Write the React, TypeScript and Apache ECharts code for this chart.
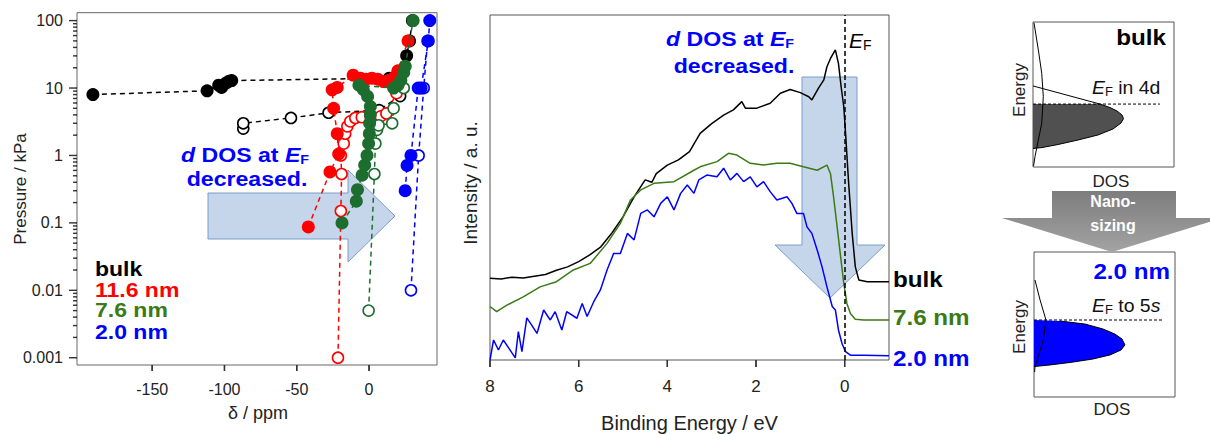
import React, { useEffect, useRef } from 'react';
import * as echarts from 'echarts';

const FONT = '"Liberation Sans", Arial, Helvetica, sans-serif';
const BLUE = '#0000ff';
const RED = '#ff0000';
const GREEN_TXT = '#3b7a14';
const GREEN_PT = '#1d6e2e';

// ---------- left panel: isotherm-like data (delta / ppm, pressure / kPa) ----------
const ppmMin = -202;
const ppmMax = 47;
const ppmTicks = [-150, -100, -50, 0];
const pMin = 0.00078;
const pMax = 131;
const pMajor = [0.001, 0.01, 0.1, 1, 10, 100];
const minorMult = [2, 3, 4, 5, 6, 7, 8, 9];
const pMinor = pMajor.slice(0, 5).flatMap((d) => minorMult.map((m) => m * d));

const bulkAds = [[-191, 8.0], [-112, 9.1], [-104, 11.0], [-102, 10.2], [-99, 11.8], [-97, 12.6], [-95, 12.9], [14, 14], [20, 17], [26, 30], [28, 50], [30, 100]];
const bulkDes = [[-87, 2.5], [-87, 3.0], [-54, 3.6], [-28, 4.3], [7, 4.7], [21.5, 7.6]];
const nm116Ads = [[-42, 0.087], [-27, 0.57], [-21, 1.05], [-22, 2.1], [-24.5, 5.0], [-25.5, 9.4], [-22, 10.2], [-11, 15.5], [-6, 14], [-2, 13.5], [2, 14], [6, 13.5], [10, 12.5], [14, 13], [17, 14], [20, 18], [27, 50]];
const nm116Des = [[-21.5, 0.001], [-19.5, 0.15], [-19, 0.53], [-19.5, 1.0], [-17.5, 1.5], [-16.5, 2.1], [-15, 2.7], [-13, 3.2], [-9.5, 3.6], [-5, 3.7], [1, 3.8], [8, 3.8], [12, 4.2], [19, 8.4]];
const nm76Ads = [[-18.7, 0.1], [-8.8, 0.21], [-8, 0.31], [-4.8, 0.51], [-3, 0.72], [-1.4, 1.0], [-0.3, 1.5], [0.2, 2.1], [0.4, 3.0], [0.9, 4.0], [0.9, 5.3], [-1, 7.5], [-4, 9.5], [-7, 11], [17, 10], [20, 11], [22, 13], [24, 17], [25, 21], [30.5, 100]];
const nm76Des = [[-0.3, 0.005], [3.7, 0.53], [4.4, 1.5], [5.5, 2.4], [6.6, 2.8], [16, 3.0], [17, 5], [24, 10]];
const nm20Ads = [[25, 0.3], [26.3, 0.71], [29, 1.0], [34, 10], [36, 10], [41, 50], [42, 100]];
const nm20Des = [[29, 0.01], [34.3, 1.0], [37.8, 10], [40.5, 50]];

// ---------- middle panel: spectra (binding energy / eV, intensity / a.u.) ----------
const eMin = -1;
const eMax = 8;
const eTicks = [0, 2, 4, 6, 8];
const xpsBulk = [[8, 23.7], [7.75, 23.5], [7.5, 24], [7.25, 23.8], [7, 24.3], [6.75, 24.8], [6.5, 26], [6.25, 27], [6, 28.5], [5.75, 30.5], [5.5, 32.8], [5.25, 36.8], [5, 41.5], [4.75, 47.3], [4.5, 52.2], [4.35, 51.5], [4.25, 54], [4, 56.5], [3.75, 58], [3.5, 60.4], [3.26, 65.7], [3, 68.5], [2.73, 71], [2.51, 72.5], [2.32, 74.9], [2.24, 73], [1.98, 73], [1.68, 74.4], [1.45, 77.3], [1.23, 78.4], [1.0, 77.5], [0.81, 76.3], [0.74, 75.4], [0.59, 78.8], [0.47, 81.2], [0.4, 85], [0.32, 87.4], [0.21, 89.9], [0.14, 86], [0.08, 79.2], [0.02, 73.4], [-0.02, 65.7], [-0.09, 51.2], [-0.17, 36.7], [-0.24, 27], [-0.32, 23.2], [-0.51, 22.7], [-1, 22.7]];
const xps76 = [[8, 15.5], [7.85, 14], [7.62, 15.9], [7.25, 18.3], [6.87, 21.2], [6.5, 22.7], [6.12, 26.1], [5.74, 28], [5.36, 33.8], [5.06, 39.6], [4.83, 46.4], [4.6, 49.3], [4.3, 51.2], [3.85, 51.7], [3.4, 55], [3.26, 56], [2.88, 57.5], [2.62, 59.9], [2.43, 59.4], [2.13, 57], [1.83, 56.5], [1.53, 57], [1.23, 57], [0.93, 56], [0.62, 55], [0.4, 56.5], [0.32, 54], [0.25, 47.3], [0.17, 38.6], [0.1, 30.9], [0.02, 22.2], [-0.05, 16.4], [-0.13, 13.5], [-0.24, 11.8], [-0.43, 11.6], [-1, 11.6]];
const xps20 = [[8, 0], [7.92, 5.8], [7.81, 2.9], [7.7, 5.8], [7.58, 3.5], [7.43, 0.6], [7.36, 8.2], [7.28, 2.4], [7.17, 12.2], [7.06, 10.1], [6.94, 7.7], [6.79, 14.5], [6.64, 11.6], [6.53, 14], [6.38, 8.7], [6.27, 14], [6.04, 12.1], [5.92, 16.4], [5.81, 12.6], [5.66, 16.9], [5.51, 20.3], [5.36, 26.1], [5.21, 30.9], [5.06, 30.9], [4.9, 36.7], [4.75, 34.8], [4.6, 42.5], [4.45, 43.5], [4.3, 41.5], [4.15, 45.4], [4.0, 47.3], [3.85, 43.5], [3.7, 48.3], [3.55, 50.7], [3.4, 48.3], [3.29, 52.2], [3.11, 53.6], [2.88, 53.1], [2.73, 55.6], [2.58, 52.2], [2.43, 54.1], [2.28, 51.7], [2.13, 53.1], [1.98, 50.2], [1.83, 51.7], [1.68, 48.8], [1.53, 46.4], [1.3, 47.3], [1.19, 45.4], [1.08, 42.5], [0.93, 42.5], [0.85, 38.6], [0.74, 36.7], [0.62, 31.9], [0.51, 27], [0.4, 21.2], [0.28, 15.5], [0.21, 14.5], [0.14, 8.7], [0.06, 4.8], [-0.02, 2.4], [-0.13, 1.4], [-0.43, 1.4], [-1, 1.2]];

// ---------- right panel: schematic DOS (DOS, energy) in 0..10 boxes ----------
const bulkDFill = [[0, 4.34], [4.75, 4.34], [5.46, 4.1], [5.96, 3.86], [6.31, 3.59], [6.42, 3.34], [6.24, 3.03], [5.67, 2.62], [4.61, 2.21], [3.19, 1.86], [1.77, 1.55], [0.64, 1.34], [0, 1.28]];
const bulkDLine = [[0, 5.59], [4.75, 4.34], [5.46, 4.1], [5.96, 3.86], [6.31, 3.59], [6.42, 3.34], [6.24, 3.03], [5.67, 2.62], [4.61, 2.21], [3.19, 1.86], [1.77, 1.55], [0.64, 1.34], [0, 1.28]];
const bulkSBand = [[0.07, 9.95], [0.38, 8.07], [0.62, 6.46], [0.73, 4.85], [0.62, 3.01], [0.38, 1.86], [0.14, 0.71], [0.04, 0.07]];
const bulkEF = [[0, 4.34], [9.0, 4.34]];
const nanoDFill = [[0, 5.31], [1.84, 5.24], [3.62, 5.03], [4.89, 4.69], [5.74, 4.34], [6.24, 4.0], [6.45, 3.59], [6.17, 3.24], [5.39, 2.9], [4.18, 2.62], [2.55, 2.38], [1.13, 2.21], [0, 2.1]];
const nanoSBand = [[0.07, 8.07], [0.43, 6.69], [0.85, 5.31], [0.66, 3.94], [0.38, 3.03], [0.07, 2.09], [0.04, 1.72]];
const nanoEF = [[0, 5.31], [9.08, 5.31]];

// grid geometry (px)
const G0 = { left: 77, top: 12.7, width: 360, height: 352.3 };
const G1 = { left: 490, top: 15, width: 399, height: 345 };

function rich(size: number, weight: string, color: string, sub: number) {
  const base = { fontSize: size, fontWeight: weight, fill: color, fontFamily: FONT, lineHeight: size + 2 };
  return {
    n: { ...base, fontStyle: 'normal' },
    i: { ...base, fontStyle: 'italic' },
    s: { fontSize: sub, fontWeight: weight, fill: color, fontFamily: FONT, fontStyle: 'normal', lineHeight: sub, verticalAlign: 'bottom' },
  };
}

function txt(x: number, y: number, text: string, size: number, color: string, opts: any = {}) {
  const sx = opts.scaleX || 1;
  return {
    type: 'text', x, y, z: 20, rotation: opts.rotation || 0, silent: true,
    scaleX: sx, scaleY: 1,
    style: {
      text, fontSize: size, fontFamily: FONT, fontWeight: opts.weight || 'normal', fill: color,
      align: opts.align || 'center', verticalAlign: 'middle',
      rich: opts.rich,
    },
  };
}

function scatterLine(data: number[][], color: string, filled: boolean, z: number) {
  return {
    type: 'line', xAxisIndex: 0, yAxisIndex: 0, data, symbol: 'circle', symbolSize: filled ? 13 : 11,
    showSymbol: true, showAllSymbol: true, silent: true, z,
    lineStyle: { color, width: 1.5, type: [5, 4] },
    itemStyle: filled ? { color } : { color: '#ffffff', borderColor: color, borderWidth: 1.6 },
  };
}

function polySeries(data: number[][], xi: number, yi: number, fill: string) {
  return {
    type: 'custom', xAxisIndex: xi, yAxisIndex: yi, data: [[0, 0]], silent: true, z: 2, clip: false,
    renderItem: (_p: any, api: any) => ({
      type: 'polygon',
      shape: { points: data.map((d) => api.coord(d)) },
      style: { fill, stroke: 'none' },
    }),
  };
}

function plainLine(data: number[][], xi: number, yi: number, color: string, width: number, dashed = false) {
  return {
    type: 'line', xAxisIndex: xi, yAxisIndex: yi, data, symbol: 'none', silent: true, z: 3,
    lineStyle: { color, width, type: dashed ? [3, 2] : 'solid' },
  };
}

// a tick drawn as a short unclipped two-point line series in data space
function tickLine(xi: number, yi: number, a: number[], b: number[]) {
  return {
    type: 'line', xAxisIndex: xi, yAxisIndex: yi, data: [a, b], symbol: 'none', silent: true, z: 9,
    clip: false, lineStyle: { color: '#333', width: 1.3 },
  };
}

// thin tick bars as graphic polygons
function tickBar(x: number, y: number, dir: 'down' | 'left', len: number) {
  const w = 0.7;
  const pts = dir === 'down'
    ? [[x - w, y], [x + w, y], [x + w, y + len], [x - w, y + len]]
    : [[x, y - w], [x, y + w], [x - len, y + w], [x - len, y - w]];
  return { type: 'polygon', z: 40, silent: true, shape: { points: pts }, style: { fill: '#333' } };
}

const hiddenAxis = (gi: number) => ({ gridIndex: gi, type: 'value', min: 0, max: 10, show: false, axisLine: { onZero: false } });
const AX = '#666';

export default function App() {
  const ref = useRef<HTMLDivElement>(null);
  useEffect(() => {
    document.body.style.margin = '0';
    const chart = echarts.init(ref.current!, null, { renderer: 'svg' });
    const arrowFill = 'rgba(160,186,220,0.6)';
    const arrowStroke = '#7c9cc8';
    const lgMin = Math.log10(pMin);
    const lgMax = Math.log10(pMax);

    // tick lengths expressed in each axis's data units
    const pxPerDecade = G0.height / (lgMax - lgMin);
    const pxPerPpm = G0.width / (ppmMax - ppmMin);
    const pxPerEv = G1.width / (eMax - eMin);
    const pxPerInt = G1.height / 100;
    const tickSeries: any[] = [
      ...ppmTicks.map((v) => tickLine(0, 0, [v, pMin], [v, pMin * Math.pow(10, -6 / pxPerDecade)])),
      ...pMajor.map((p) => tickLine(0, 0, [ppmMin, p], [ppmMin - 8 / pxPerPpm, p])),
      ...pMinor.map((p) => tickLine(0, 0, [ppmMin, p], [ppmMin - 4 / pxPerPpm, p])),
      ...eTicks.map((v) => tickLine(1, 2, [v, 0], [v, -7 / pxPerInt])),
    ];
    void pxPerEv;

    const px0 = (v: number) => G0.left + ((v - ppmMin) / (ppmMax - ppmMin)) * G0.width;
    const py0 = (p: number) => G0.top + ((lgMax - Math.log10(p)) / (lgMax - lgMin)) * G0.height;
    const px1 = (e: number) => G1.left + ((eMax - e) / (eMax - eMin)) * G1.width;
    const ticks: any[] = [
      ...ppmTicks.map((v) => tickBar(px0(v), G0.top + G0.height, 'down', 6)),
      ...pMajor.map((p) => tickBar(G0.left, py0(p), 'left', 8)),
      ...pMinor.map((p) => tickBar(G0.left, py0(p), 'left', 4)),
      ...eTicks.map((v) => tickBar(px1(v), G1.top + G1.height, 'down', 7)),
    ];

    const graphics: any[] = [
      {
        type: 'polygon', z: 1, silent: true,
        shape: { points: [[208, 193], [348, 193], [348, 170], [395, 216], [348, 262], [348, 239], [208, 239]] },
        style: { fill: arrowFill, stroke: arrowStroke, lineWidth: 1 },
      },
      txt(245, 155, '{i|d}{n| DOS at }{i|E}{s|F}', 21, BLUE, { weight: 'bold', scaleX: 1.1, rich: rich(21, 'bold', BLUE, 13) }),
      txt(247, 179, 'decreased.', 21, BLUE, { weight: 'bold', scaleX: 1.1 }),
      txt(95, 269.5, 'bulk', 20, '#000', { weight: 'bold', align: 'left', scaleX: 1.15 }),
      txt(95, 290, '11.6 nm', 20, RED, { weight: 'bold', align: 'left', scaleX: 1.15 }),
      txt(95, 310.5, '7.6 nm', 20, GREEN_TXT, { weight: 'bold', align: 'left', scaleX: 1.15 }),
      txt(95, 332, '2.0 nm', 20, BLUE, { weight: 'bold', align: 'left', scaleX: 1.15 }),
      txt(20, 189, 'Pressure / kPa', 17, '#222', { rotation: Math.PI / 2 }),
      txt(258, 413, 'δ / ppm', 18, '#222'),
      {
        type: 'polygon', z: 1, silent: true,
        shape: { points: [[802, 77], [857, 77], [857, 245], [885, 245], [830, 298], [775, 245], [802, 245]] },
        style: { fill: arrowFill, stroke: arrowStroke, lineWidth: 1 },
      },
      txt(730, 39, '{i|d}{n| DOS at }{i|E}{s|F}', 21, BLUE, { weight: 'bold', scaleX: 1.1, rich: rich(21, 'bold', BLUE, 13) }),
      txt(734, 66, 'decreased.', 21, BLUE, { weight: 'bold', scaleX: 1.1 }),
      txt(849, 40, '{i|E}{s|F}', 21, '#000', { align: 'left', rich: rich(21, 'normal', '#000', 14) }),
      txt(893, 279, 'bulk', 22, '#000', { weight: 'bold', align: 'left', scaleX: 1.1 }),
      txt(893, 317.5, '7.6 nm', 22, GREEN_TXT, { weight: 'bold', align: 'left', scaleX: 1.1 }),
      txt(893, 358, '2.0 nm', 22, BLUE, { weight: 'bold', align: 'left', scaleX: 1.1 }),
      txt(470, 183, 'Intensity / a. u.', 19, '#222', { rotation: Math.PI / 2 }),
      txt(689.5, 423, 'Binding Energy / eV', 20, '#222'),
      txt(1166, 37, 'bulk', 22, '#000', { weight: 'bold', align: 'right', scaleX: 1.1 }),
      txt(1092, 88, '{i|E}{s|F}{n| in 4d}', 18, '#111', { align: 'left', scaleX: 1.08, rich: rich(18, 'normal', '#111', 12) }),
      txt(1019, 90, 'Energy', 17, '#222', { rotation: Math.PI / 2 }),
      txt(1111, 181, 'DOS', 17, '#222'),
      {
        type: 'polygon', z: 1, silent: true,
        shape: { points: [[1052, 191], [1176, 191], [1176, 218], [1222, 218], [1112, 252], [1002, 218], [1052, 218]] },
        style: {
          fill: new echarts.graphic.LinearGradient(0, 0, 0, 1, [
            { offset: 0, color: '#7d7d7d' },
            { offset: 1, color: '#a3a3a3' },
          ]),
        },
      },
      txt(1113, 201, 'Nano-', 16, '#ffffff', { weight: 'bold' }),
      txt(1113, 225, 'sizing', 16, '#ffffff', { weight: 'bold' }),
      txt(1170, 271, '2.0 nm', 22, BLUE, { weight: 'bold', align: 'right', scaleX: 1.1 }),
      txt(1092, 306, '{i|E}{s|F}{n| to 5}{i|s}', 18, '#111', { align: 'left', scaleX: 1.08, rich: rich(18, 'normal', '#111', 12) }),
      txt(1019, 327, 'Energy', 17, '#222', { rotation: Math.PI / 2 }),
      txt(1112, 409, 'DOS', 17, '#222'),
      ...ticks,
    ];
    const option: any = {
      animation: false,
      backgroundColor: '#ffffff',
      grid: [
        { ...G0, show: true, borderColor: AX, borderWidth: 1, backgroundColor: 'transparent' },
        { ...G1, show: true, borderColor: '#555', borderWidth: 1, backgroundColor: 'transparent' },
        { left: 1033, top: 22, width: 141, height: 145, show: true, borderColor: '#555', borderWidth: 1, backgroundColor: 'transparent' },
        { left: 1034, top: 252, width: 141, height: 145, show: true, borderColor: '#555', borderWidth: 1, backgroundColor: 'transparent' },
      ],
      xAxis: [
        {
          gridIndex: 0, type: 'value', min: ppmMin, max: ppmMax, position: 'bottom',
          axisLine: { show: false, onZero: false }, splitLine: { show: false }, axisTick: { show: false },
          axisLabel: { customValues: ppmTicks, fontSize: 16, color: '#222', fontFamily: FONT, margin: 16 },
        },
        {
          gridIndex: 1, type: 'value', min: eMin, max: eMax, inverse: true, position: 'bottom',
          axisLine: { show: false, onZero: false }, splitLine: { show: false }, axisTick: { show: false },
          axisLabel: { customValues: eTicks, fontSize: 17, color: '#222', fontFamily: FONT, margin: 18 },
        },
        hiddenAxis(2),
        hiddenAxis(3),
      ],
      yAxis: [
        { gridIndex: 0, type: 'log', min: pMin, max: pMax, show: false, axisLine: { onZero: false } },
        {
          gridIndex: 0, type: 'value', min: lgMin, max: lgMax, position: 'left',
          axisLine: { show: false, onZero: false }, splitLine: { show: false }, axisTick: { show: false },
          axisLabel: {
            customValues: pMajor.map((v) => Math.log10(v)), fontSize: 16, color: '#222', fontFamily: FONT, margin: 14,
            formatter: (v: number) => String(+Math.pow(10, v).toPrecision(2)),
          },
        },
        { gridIndex: 1, type: 'value', min: 0, max: 100, show: false, axisLine: { onZero: false } },
        hiddenAxis(2),
        hiddenAxis(3),
      ],
      series: [
        scatterLine(bulkDes, '#000000', false, 3),
        scatterLine(nm116Des, RED, false, 3),
        scatterLine(nm76Des, GREEN_PT, false, 3),
        scatterLine(nm20Des, BLUE, false, 3),
        scatterLine(bulkAds, '#000000', true, 4),
        scatterLine(nm116Ads, RED, true, 4),
        scatterLine(nm76Ads, GREEN_PT, true, 5),
        scatterLine(nm20Ads, BLUE, true, 5),
        {
          type: 'line', xAxisIndex: 1, yAxisIndex: 2, data: xpsBulk, symbol: 'none', silent: true, z: 3,
          lineStyle: { color: '#000', width: 1.5 },
          markLine: {
            silent: true, symbol: 'none', label: { show: false },
            lineStyle: { type: [5, 3], color: '#000', width: 1.5 },
            data: [{ xAxis: 0 }],
          },
        },
        { type: 'line', xAxisIndex: 1, yAxisIndex: 2, data: xps76, symbol: 'none', silent: true, z: 3, lineStyle: { color: GREEN_TXT, width: 1.5 } },
        { type: 'line', xAxisIndex: 1, yAxisIndex: 2, data: xps20, symbol: 'none', silent: true, z: 3, lineStyle: { color: BLUE, width: 1.5 } },
        polySeries(bulkDFill, 2, 3, '#505050'),
        plainLine(bulkDLine, 2, 3, '#000', 1),
        plainLine(bulkSBand, 2, 3, '#000', 1),
        plainLine(bulkEF, 2, 3, '#000', 1, true),
        polySeries(nanoDFill, 3, 4, BLUE),
        plainLine(nanoDFill.slice(1), 3, 4, '#000', 1),
        plainLine(nanoSBand, 3, 4, '#000', 1),
        plainLine(nanoEF, 3, 4, '#000', 1, true),
        ...tickSeries,
      ],
      graphic: graphics,
    };
    chart.setOption(option);
    return () => chart.dispose();
  }, []);
  return <div ref={ref} style={{ width: 1210, height: 434 }} />;
}
